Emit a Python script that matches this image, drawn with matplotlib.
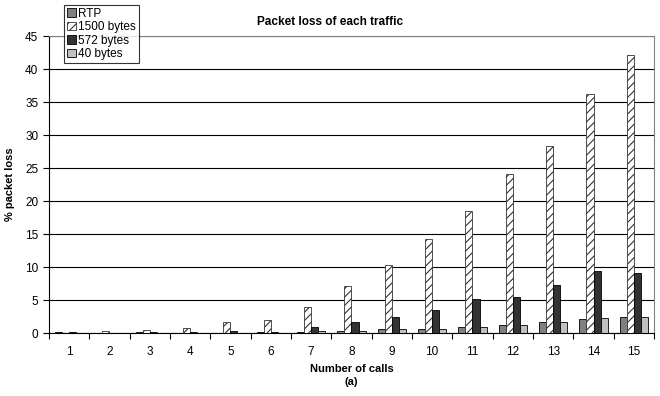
import matplotlib.pyplot as plt
import numpy as np

plt.rcParams['font.family'] = ['Liberation Sans', 'DejaVu Sans']
plt.rcParams['hatch.linewidth'] = 0.8

calls = list(range(1, 16))
rtp = [0.15, 0.05, 0.1, 0.05, 0.05, 0.1, 0.15, 0.3, 0.55, 0.65, 0.9, 1.2, 1.6, 2.1, 2.4]
b1500 = [0.05, 0.35, 0.45, 0.75, 1.6, 1.9, 3.9, 7.1, 10.3, 14.2, 18.5, 24.1, 28.4, 36.2, 42.2]
b572 = [0.1, 0.05, 0.15, 0.15, 0.35, 0.2, 0.9, 1.7, 2.4, 3.5, 5.1, 5.4, 7.3, 9.4, 9.1]
b40 = [0.05, 0.05, 0.05, 0.05, 0.05, 0.05, 0.25, 0.35, 0.55, 0.6, 0.85, 1.2, 1.6, 2.25, 2.5]

fig = plt.figure(figsize=(6.6, 3.96), dpi=100)
ax = fig.add_axes([0.074, 0.159, 0.917, 0.75])

x = np.arange(len(calls))
w = 0.175
ax.bar(x - 1.5 * w, rtp, w, color='#808080', edgecolor='black', linewidth=0.6, label='RTP', zorder=3)
ax.bar(x - 0.5 * w, b1500, w, color='white', edgecolor='#333333', hatch='////', linewidth=0.6, label='1500 bytes', zorder=3)
ax.bar(x + 0.5 * w, b572, w, color='#333333', edgecolor='black', linewidth=0.6, label='572 bytes', zorder=3)
ax.bar(x + 1.5 * w, b40, w, color='#c0c0c0', edgecolor='black', linewidth=0.6, label='40 bytes', zorder=3)

ax.set_xlim(-0.5, len(calls) - 0.5)
ax.set_ylim(0, 45)
ax.set_yticks(range(0, 46, 5))
ax.set_xticks(x)
ax.set_xticklabels(calls)
ax.set_xticks(np.arange(-0.5, len(calls), 1), minor=True)
ax.tick_params(axis='x', which='major', length=0, labelsize=8.5, pad=9)
ax.tick_params(axis='x', which='minor', length=4, width=0.8, direction='out')
ax.tick_params(axis='y', labelsize=8.5, length=4, width=0.8, direction='out')
ax.yaxis.grid(True, color='black', linewidth=0.8, zorder=0)

for s in ['top', 'right']:
    ax.spines[s].set_color('#808080')
    ax.spines[s].set_linewidth(0.8)
for s in ['left', 'bottom']:
    ax.spines[s].set_linewidth(0.8)

ax.set_ylabel('% packet loss', fontsize=8, fontweight='bold', labelpad=7)
ax.set_xlabel('Number of calls\n(a)', fontsize=8, fontweight='bold', linespacing=1.3, labelpad=5)
fig.text(0.5, 0.945, 'Packet loss of each traffic', ha='center', va='center', fontsize=8.5, fontweight='bold')

leg = fig.legend(loc='upper left', bbox_to_anchor=(0.097, 0.988), fontsize=8.5, frameon=True,
                 fancybox=False, edgecolor='black', borderpad=0.25, labelspacing=0.12,
                 handlelength=0.75, handleheight=0.75, handletextpad=0.2, borderaxespad=0)
leg.get_frame().set_linewidth(0.8)

fig.savefig('out.png', dpi=100)
